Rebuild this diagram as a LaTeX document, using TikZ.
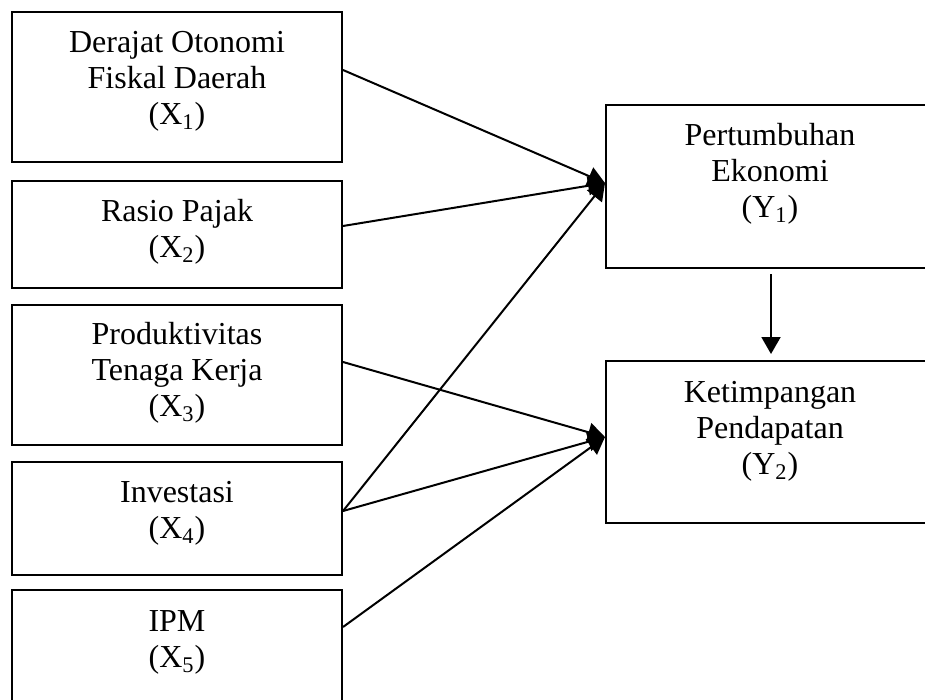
\documentclass[tikz,border=0pt]{standalone}
\usepackage{fontspec}
\setmainfont{Liberation Serif}
\usetikzlibrary{arrows.meta}
\begin{document}
\begin{tikzpicture}[x=0.5pt, y=-0.5pt, >={Triangle[length=8.5pt, width=9.5pt]},
		box/.style={draw, line width=1pt, minimum width=165pt, inner sep=0pt},
		txt/.style={align=center, font=\fontsize{16}{18}\selectfont, inner sep=0pt},
		link/.style={->, line width=1pt}]
	\useasboundingbox (0,0) rectangle (925,700);
	\clip (0,0) rectangle (925,700);
	\node[box, minimum height=75pt] (x1) at (177,87) {};
	\node[box, minimum height=53.5pt] (x2) at (177,234.5) {};
	\node[box, minimum height=70pt] (x3) at (177,375) {};
	\node[box, minimum height=56.5pt] (x4) at (177,518.5) {};
	\node[box, minimum height=60pt] (x5) at (177,650) {};
	\node[box, minimum height=81.5pt] (y1) at (771,186.5) {};
	\node[box, minimum height=81pt] (y2) at (771,442) {};
	\node[txt] (x1t) at (177,81) {Derajat Otonomi\\Fiskal Daerah\\(X\textsubscript{1})};
	\node[txt] (x2t) at (177,231.5) {Rasio Pajak\\(X\textsubscript{2})};
	\node[txt] (x3t) at (177,373) {Produktivitas\\Tenaga Kerja\\(X\textsubscript{3})};
	\node[txt] (x4t) at (177,513) {Investasi\\(X\textsubscript{4})};
	\node[txt] (x5t) at (177,642) {IPM\\(X\textsubscript{5})};
	\node[txt] (y1t) at (770,174) {Pertumbuhan\\Ekonomi\\(Y\textsubscript{1})};
	\node[txt] (y2t) at (770,431) {Ketimpangan\\Pendapatan\\(Y\textsubscript{2})};
	\draw[link] ([yshift=8.5pt]x1.east) -- ([yshift=1.75pt]y1.west);
	\draw[link] ([yshift=4.25pt]x2.east) -- ([yshift=1.75pt]y1.west);
	\draw[link] ([yshift=3.75pt]x4.east) -- ([yshift=1.75pt]y1.west);
	\draw[link] ([yshift=6.5pt]x3.east) -- ([yshift=2.5pt]y2.west);
	\draw[link] ([yshift=3.75pt]x4.east) -- ([yshift=2.5pt]y2.west);
	\draw[link] ([yshift=11.5pt]x5.east) -- ([yshift=2.5pt]y2.west);
	\draw[link, shorten <=2.5pt, shorten >=3pt] (y1.south) -- (y2.north);
\end{tikzpicture}
\end{document}
